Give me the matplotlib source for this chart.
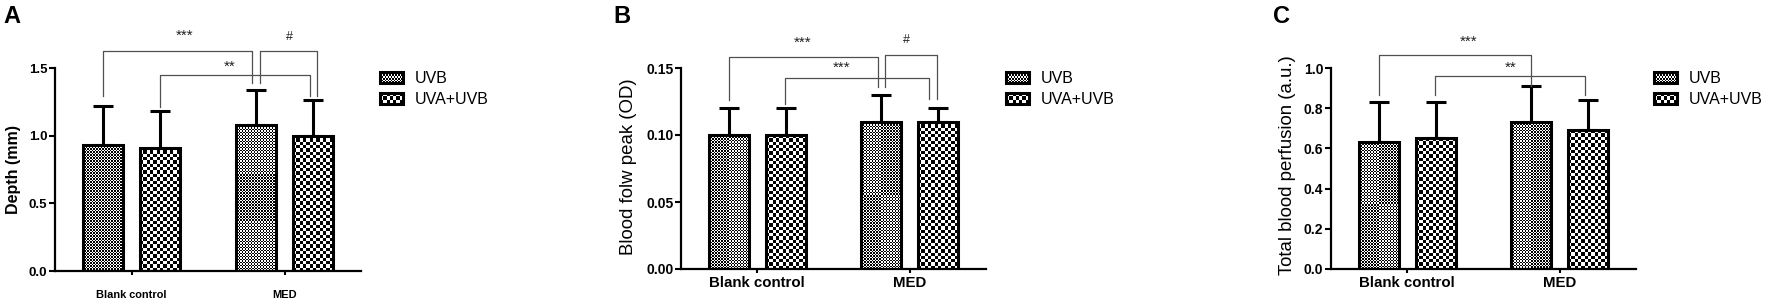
import numpy as np
import matplotlib
matplotlib.use("Agg")
import matplotlib.pyplot as plt
from matplotlib.patches import Rectangle, Patch
from matplotlib.legend_handler import HandlerBase
from matplotlib.image import BboxImage
from matplotlib.transforms import Bbox, TransformedBbox

plt.rcParams['font.family'] = ['Liberation Sans', 'DejaVu Sans']

# ---- data ----
groups = ['Blank control', 'MED']
series = ['UVB', 'UVA+UVB']

depth_uvb = [0.93, 1.08]
depth_uvb_err = [0.29, 0.26]
depth_mix = [0.91, 1.00]
depth_mix_err = [0.27, 0.26]

flow_uvb = [0.100, 0.110]
flow_uvb_err = [0.020, 0.020]
flow_mix = [0.100, 0.110]
flow_mix_err = [0.020, 0.010]

perf_uvb = [0.63, 0.73]
perf_uvb_err = [0.20, 0.18]
perf_mix = [0.65, 0.69]
perf_mix_err = [0.18, 0.15]

# significance brackets: x_left, x_right, y_top, y_left_end, y_right_end, label, label_x, label_y
brackets_a = [(-0.187, 0.79, 1.625, 1.29, 1.39, '***', 0.35, 1.74),
              (0.84, 1.215, 1.625, 1.39, 1.29, '#', 1.03, 1.73),
              (0.187, 1.167, 1.45, 1.21, 1.29, '**', 0.64, 1.51)]
brackets_b = [(-0.187, 0.79, 0.158, 0.1264, 0.1358, '***', 0.30, 0.169),
              (0.84, 1.18, 0.160, 0.1358, 0.1269, '#', 0.98, 0.171),
              (0.18, 1.125, 0.1428, 0.1234, 0.1269, '***', 0.55, 0.150)]
brackets_c = [(-0.187, 0.811, 1.066, 0.867, 0.912, '***', 0.40, 1.129),
              (0.183, 1.166, 0.962, 0.867, 0.867, '**', 0.68, 1.00)]

W, H = 1772, 304
fig = plt.figure(figsize=(W / 100, H / 100), dpi=100)

FINE = 1.5     # checker cell size in pixels for UVB
COARSE = 3.3   # checker cell size in pixels for UVA+UVB
bw = 0.26
off = 0.187


def checker_cells(nx, ny):
    return np.indices((ny, nx)).sum(axis=0) % 2


def checker_fill(ax, bars, cell_px):
    for bar in bars:
        x0, y0 = bar.get_x(), bar.get_y()
        w, h = bar.get_width(), bar.get_height()
        (px0, py0), (px1, py1) = ax.transData.transform([(x0, y0), (x0 + w, y0 + h)])
        nx = max(1, int(round((px1 - px0) / cell_px)))
        ny = max(1, int(round((py1 - py0) / cell_px)))
        im = ax.imshow(checker_cells(nx, ny), cmap='gray', vmin=0, vmax=1,
                       extent=(x0, x0 + w, y0, y0 + h), origin='lower',
                       interpolation='nearest', aspect='auto', zorder=2)
        im.set_clip_path(bar)


class CheckerHandler(HandlerBase):
    def __init__(self, cell_px):
        super().__init__()
        self.cell_px = cell_px

    def create_artists(self, legend, orig_handle, xdescent, ydescent,
                       width, height, fontsize, trans):
        px = width * 100 / 72
        py = height * 100 / 72
        cells = checker_cells(max(1, int(round(px / self.cell_px))),
                              max(1, int(round(py / self.cell_px))))
        box = Bbox.from_bounds(-xdescent, -ydescent, width, height)
        img = BboxImage(TransformedBbox(box, trans), cmap='gray',
                        norm=plt.Normalize(0, 1), interpolation='nearest')
        img.set_data(cells)
        rect = Rectangle((-xdescent, -ydescent), width, height,
                         facecolor='none', edgecolor='black', linewidth=2.2)
        rect.set_transform(trans)
        return [img, rect]


def panel(rect, uvb, uvb_err, mix, mix_err, ymax, yticks, fmt, ylabel, ylab_bold,
          ylab_pos, xt_size, xt_pad, yt_size, brackets, letter, letter_x, leg_x):
    ax = fig.add_axes(rect)
    ax.set_xlim(-0.5, 1.5)
    ax.set_ylim(0, ymax)
    x = np.arange(len(groups))

    b1 = ax.bar(x - off, uvb, bw, facecolor='none', edgecolor='black', linewidth=2.2, zorder=3)
    b2 = ax.bar(x + off, mix, bw, facecolor='none', edgecolor='black', linewidth=2.2, zorder=3)
    checker_fill(ax, b1, FINE)
    checker_fill(ax, b2, COARSE)
    ax.errorbar(x - off, uvb, yerr=[np.zeros(len(uvb)), uvb_err], fmt='none', ecolor='black',
                elinewidth=2.2, capsize=7, capthick=2.2, zorder=1, clip_on=False)
    ax.errorbar(x + off, mix, yerr=[np.zeros(len(mix)), mix_err], fmt='none', ecolor='black',
                elinewidth=2.2, capsize=7, capthick=2.2, zorder=1, clip_on=False)

    for xl, xr, yt, yl, yr, lab, lx, ly in brackets:
        ax.plot([xl, xl, xr, xr], [yl, yt, yt, yr], color='#505050', lw=0.9,
                clip_on=False, zorder=4)
        ax.text(lx, ly, lab, ha='center', va='center',
                fontsize=11 if lab != '#' else 9, color='#202020')

    for s in ['top', 'right']:
        ax.spines[s].set_visible(False)
    for s in ['left', 'bottom']:
        ax.spines[s].set_linewidth(1.6)

    ax.set_xticks(x)
    ax.set_xticklabels(groups, fontsize=xt_size, fontweight='bold')
    ax.set_yticks(yticks)
    ax.set_yticklabels([fmt.format(v) for v in yticks], fontsize=yt_size, fontweight='bold')
    ax.tick_params(axis='y', direction='out', length=4, width=1.5, pad=1.5)
    ax.tick_params(axis='x', direction='out', length=3, width=1.5, pad=xt_pad)

    ax.set_ylabel(ylabel, fontsize=11.5 if ylab_bold else 13.4,
                  fontweight='bold' if ylab_bold else 'normal')
    ax.yaxis.set_label_coords(*ylab_pos)

    handles = [Patch(label=series[0]), Patch(label=series[1])]
    ax.legend(handles=handles, labels=series, loc='upper left',
              bbox_to_anchor=(leg_x, 0.985), frameon=False, fontsize=11.5,
              handlelength=1.44, handleheight=0.69, handletextpad=0.75,
              labelspacing=0.38, borderpad=0, borderaxespad=0,
              handler_map={handles[0]: CheckerHandler(FINE),
                           handles[1]: CheckerHandler(COARSE)})

    fig.text(letter_x / W, 1 - 5 / H, letter, fontsize=17, fontweight='bold',
             ha='left', va='top')
    return ax


panel([55 / W, 1 - 271 / H, 306 / W, 203 / H], depth_uvb, depth_uvb_err, depth_mix, depth_mix_err,
      1.5, [0, 0.5, 1.0, 1.5], '{:.1f}', 'Depth (mm)', True, (-0.111, 0.5),
      7.9, 11, 9.5, brackets_a, 'A', 3, 1.062)
panel([681 / W, 1 - 269 / H, 305 / W, 201 / H], flow_uvb, flow_uvb_err, flow_mix, flow_mix_err,
      0.15, [0, 0.05, 0.10, 0.15], '{:.2f}', 'Blood folw peak (OD)', False, (-0.144, 0.51),
      10.8, 2, 10, brackets_b, 'B', 613, 1.066)
panel([1331 / W, 1 - 269 / H, 305 / W, 201 / H], perf_uvb, perf_uvb_err, perf_mix, perf_mix_err,
      1.0, [0, 0.2, 0.4, 0.6, 0.8, 1.0], '{:.1f}', 'Total blood perfusion (a.u.)', False,
      (-0.115, 0.515), 10.8, 2, 10, brackets_c, 'C', 1273, 1.059)

fig.savefig('out.png', dpi=100)
